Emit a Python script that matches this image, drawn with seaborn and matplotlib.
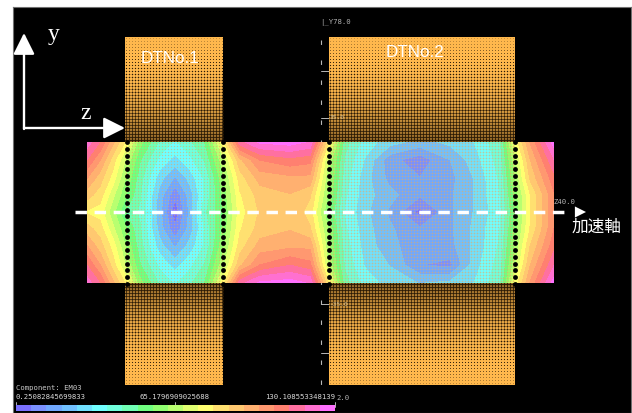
"""Field map of two drift tubes, EM03 component."""

import matplotlib
matplotlib.use("Agg")
import matplotlib.pyplot as plt
from matplotlib.colors import ListedColormap, BoundaryNorm
import numpy as np
import pandas as pd
import seaborn as sns

# field sample positions
Z_GRID = [87, 100, 113, 127, 140, 150, 160, 175, 190, 205, 223, 240, 260, 290,
    310, 329, 345, 365, 390, 420, 450, 475, 500, 515, 530, 554]
Y_GRID = [142, 160, 178, 195, 212, 229, 246, 265, 283]
# field values per row
ROW_142 = [122, 112, 95, 78, 58, 50, 42, 36, 42, 50, 78, 116, 126, 128, 124, 80, 46, 34, 27, 22, 26, 31, 42, 76, 100, 128]
ROW_160 = [112, 100, 84, 66, 50, 42, 35, 28, 35, 44, 66, 92, 106, 110, 108, 66, 42, 30, 14, 8, 18, 28, 40, 66, 93, 118]
ROW_178 = [100, 90, 78, 60, 46, 36, 27, 17, 27, 38, 60, 84, 96, 98, 98, 62, 40, 27, 16, 12, 16, 25, 38, 62, 88, 110]
ROW_195 = [90, 84, 70, 55, 44, 33, 21, 7, 21, 38, 57, 80, 90, 93, 88, 60, 38, 27, 20, 13, 17, 25, 37, 58, 80, 105]
ROW_212 = [80, 78, 64, 48, 42, 32, 20, 1, 20, 42, 55, 78, 88, 93, 84, 55, 36, 26, 17, 3, 17, 25, 35, 56, 80, 105]
ROW_229 = [90, 84, 70, 55, 44, 33, 21, 7, 21, 38, 57, 80, 90, 93, 88, 60, 38, 27, 19, 13, 17, 26, 37, 58, 81, 106]
ROW_246 = [100, 90, 78, 60, 46, 36, 27, 17, 27, 38, 60, 84, 96, 98, 98, 62, 40, 28, 20, 14, 16, 26, 38, 62, 87, 110]
ROW_265 = [112, 100, 84, 66, 50, 42, 35, 28, 35, 44, 66, 92, 106, 112, 108, 66, 42, 30, 24, 12, 10, 28, 40, 66, 93, 118]
ROW_283 = [122, 112, 95, 78, 58, 50, 42, 36, 42, 50, 78, 116, 126, 128, 124, 80, 46, 34, 28, 24, 26, 31, 42, 76, 100, 128]
# drift tube extents
DT_NAMES = ["DTNo.1", "DTNo.2"]
DT_LEFT = [125, 329]
DT_RIGHT = [223, 515]
# colour bands, low to high
BANDS = ["#7a70ff", "#7a90ff", "#70a8ff", "#70c0ff", "#70e0ff", "#70ffff",
    "#70ffdc", "#70ffb4", "#70ff80", "#90ff70", "#b8ff70", "#e0ff70",
    "#ffff70", "#ffe070", "#ffc870", "#ffb070", "#ff9870", "#ff8070",
    "#ff70a0", "#ff70d0", "#ff70ff"]
VMIN = 0.25082845699833
VMAX = 130.108553348139
BAR_LABELS = ["0.25082845699833", "65.1796909025688", "130.108553348139"]

GOLD = "#ffb84d"
MONO = "DejaVu Sans Mono"


def plotField(ax):
  """
  Draws the banded field between the tube ends.
  """
  values = np.array([ROW_142, ROW_160, ROW_178, ROW_195, ROW_212, ROW_229,
      ROW_246, ROW_265, ROW_283])
  levels = np.linspace(VMIN - 1, VMAX + 1, len(BANDS) + 1)
  cmap = ListedColormap(BANDS)
  ax.contourf(Z_GRID, Y_GRID, values, levels=levels, cmap=cmap,
      norm=BoundaryNorm(levels, cmap.N), zorder=2)


def plotDots(ax, xvals, yvals, sizes, color, alpha=1.0, zorder=3):
  """
  Draws a grid of round dots.
  """
  xgrid, ygrid = np.meshgrid(xvals, yvals)
  sgrid = np.repeat(np.asarray(sizes)[:, None], len(xvals), axis=1)
  df = pd.DataFrame({"x": xgrid.ravel(), "y": ygrid.ravel(),
      "s": sgrid.ravel()})
  ax.scatter(df["x"], df["y"], s=df["s"], c=color, marker="o",
      linewidths=0, alpha=alpha, zorder=zorder)


def plotTube(ax, left, right, name):
  """
  Draws the upper and lower gold blocks with their dither and the edge dots.
  """
  for top, bottom, field_edge in [(37, 142, 142), (283, 385, 283)]:
    ax.fill_between([left, right], top, bottom, color=GOLD, lw=0, zorder=2)
    yvals = np.arange(top + 1.5, bottom, 3.0)
    depth = np.abs(yvals - field_edge)
    # dots shrink away from the field
    side = np.interp(depth, [0, 30, 60, 85, 105], [3.0, 2.4, 1.7, 1.0, 0.5])
    sizes = (side * 0.72) ** 2
    xvals = np.arange(left + 1.5, right, 3.0)
    plotDots(ax, xvals, yvals, sizes, "#2a1a05", zorder=3)
  # fine dots over the field, heavier on the long tube
  yvals = np.arange(143.5, 283, 3.0)
  xvals = np.arange(left + 1.5, right, 3.0)
  weight = 1.0 if left == 125 else 1.6
  plotDots(ax, xvals, yvals, np.full(len(yvals), weight), "#e8a860",
      alpha=0.6, zorder=3)
  # black dots along both tube ends
  edge_y = np.arange(142, 285, 6.75)
  edges = pd.DataFrame({"x": [left + 2 if left == 125 else left] * len(edge_y)
      + [right] * len(edge_y), "y": list(edge_y) * 2})
  sns.scatterplot(data=edges, x="x", y="y", color="black", s=12, linewidth=0,
      ax=ax, zorder=5, legend=False)
  text_x = 170 if left == 125 else 415
  text_y = 57 if left == 125 else 51
  ax.text(text_x, text_y, name, color="white",
      fontsize=12.3, family="Liberation Sans", ha="center", va="center",
      zorder=6)


def plotArrows(ax):
  """
  Draws the coordinate arrows and the beam axis.
  """
  arrow = dict(arrowstyle="-|>,head_length=1.3,head_width=0.65",
      color="white", lw=1.7, shrinkA=0, shrinkB=0, mutation_scale=10)
  ax.annotate("", xy=(24, 33), xytext=(24, 129), arrowprops=arrow, zorder=7)
  ax.annotate("", xy=(125, 128), xytext=(24, 128), arrowprops=arrow, zorder=7)
  ax.text(54, 33, "y", color="white", fontsize=17, family="Liberation Serif",
      ha="center", va="center", zorder=7)
  ax.text(86, 112, "z", color="white", fontsize=17, family="Liberation Serif",
      ha="center", va="center", zorder=7)
  ax.plot([75, 570], [212, 212], color="white", lw=2.5,
      dashes=(3.3, 2.2), dash_capstyle="butt", zorder=7)
  ax.annotate("", xy=(586, 212), xytext=(575, 212),
      arrowprops=dict(arrowstyle="-|>,head_length=0.8,head_width=0.4",
      color="white", lw=0, shrinkA=0, shrinkB=0, mutation_scale=10), zorder=7)
  ax.text(596, 226, "加速軸", color="white", fontsize=12,
      family=["Noto Sans CJK JP", "DejaVu Sans"], ha="center", va="center",
      zorder=7)


def plotRuler(ax):
  """
  Draws the faint y ruler and its labels.
  """
  ax.plot([321, 321], [40, 385], color="#b8b8b8", lw=0.8,
      dashes=(4, 14), zorder=1)
  for ypos in [71, 118, 304, 353]:
    ax.plot([321, 329], [ypos, ypos], color="#b8b8b8", lw=0.7, zorder=1)
  ax.text(320, 21, "|_Y78.0", color="#b0b0b0", fontsize=5.2, family=MONO,
      ha="left", va="center", zorder=6)
  ax.text(553, 201, "Z40.0", color="#b0b0b0", fontsize=5.2, family=MONO,
      ha="left", va="center", zorder=6)
  ax.text(330, 116, "35.0", color="#d8c090", fontsize=4.5, family=MONO,
      ha="left", va="center", zorder=6)
  ax.text(330, 304, "-35.0", color="#d8c090", fontsize=4.5, family=MONO,
      ha="left", va="center", zorder=6)


def plotBar(fig, ax):
  """
  Draws the colour key at the bottom through seaborn.
  """
  ax_bar = fig.add_axes([16 / 632, 1 - 412 / 414, 319 / 632, 6 / 414])
  df = pd.DataFrame([np.arange(len(BANDS))])
  sns.heatmap(df, cmap=ListedColormap(BANDS), cbar=False, xticklabels=False,
      yticklabels=False, ax=ax_bar)
  ax_bar.set_xlabel("")
  ax_bar.set_ylabel("")
  ax.text(16, 387, "Component: EM03", color="#c8c8c8", fontsize=5.2,
      family=MONO, ha="left", va="center", zorder=6)
  for xpos, label in zip([16, 140, 265], BAR_LABELS):
    ax.text(xpos, 396, label, color="#d8d8d8", fontsize=5.2, family=MONO,
        ha="left", va="center", zorder=6)
  ax.text(336, 397, "2.0", color="#b0b0b0", fontsize=5.2, family=MONO,
      ha="left", va="center", zorder=6)
  for xpos in [16, 175, 335]:
    ax.plot([xpos, xpos], [402, 407], color="#d0d0d0", lw=0.6, zorder=6)


def main():
  sns.set_theme(style="white")
  plt.rcParams["font.family"] = ["DejaVu Sans", "Noto Sans CJK JP"]
  fig = plt.figure(figsize=(6.32, 4.14), dpi=100, facecolor="white")
  ax = fig.add_axes([13 / 632, 0, 618 / 632, 406 / 414], facecolor="black")
  ax.set_xlim(13, 631)
  ax.set_ylim(413, 7)
  plotField(ax)
  for left, right, name in zip(DT_LEFT, DT_RIGHT, DT_NAMES):
    plotTube(ax, left, right, name)
  plotRuler(ax)
  plotArrows(ax)
  plotBar(fig, ax)
  ax.set_xlabel("")
  ax.set_ylabel("")
  ax.set_xticks([])
  ax.set_yticks([])
  for spine in ax.spines.values():
    spine.set_color("#707070")
    spine.set_linewidth(0.8)
  fig.savefig("out.png", dpi=100, facecolor="white")


main()
